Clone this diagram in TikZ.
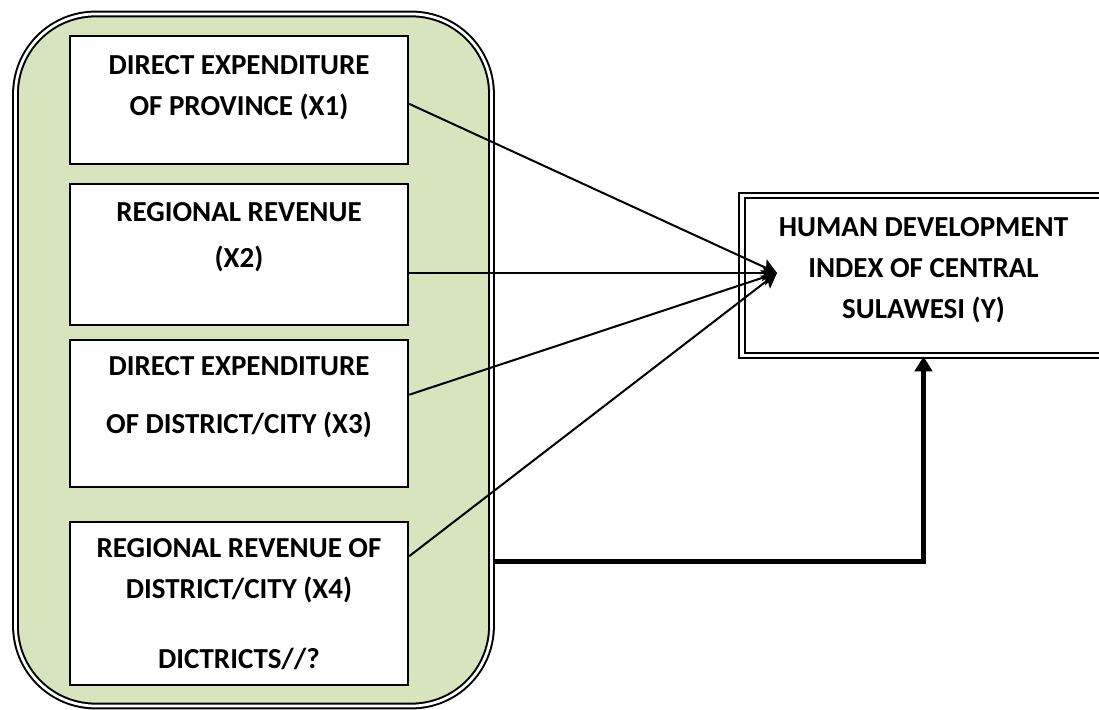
\documentclass[tikz,border=0pt]{standalone}
\usepackage{fontspec}
\setmainfont{Carlito}
\usetikzlibrary{arrows.meta, positioning, calc}
\definecolor{panelgreen}{RGB}{215, 228, 189}

\begin{document}
\begin{tikzpicture}[
  varbox/.style={draw, fill=white, line width=0.04cm, minimum width=6.77cm},
  vartext/.style={font=\bfseries\fontsize{16.5}{23.3}\selectfont, align=center, inner sep=0pt},
  link/.style={-{Stealth[length=0.3cm, width=0.32cm, inset=0.06cm]}, line width=0.04cm},
  feed/.style={-{Triangle[length=0.3cm, width=0.35cm]}, line width=0.1cm}
]
  \useasboundingbox (0,0) rectangle (21.98,14.18);

  % Independent variables
  \node[draw, double, double distance=0.055cm, line width=0.04cm, fill=panelgreen, rounded corners=1.6cm, minimum width=9.52cm, minimum height=13.84cm] (panel) at (5.07,6.98) {};

  \node[varbox, minimum height=2.56cm] (x1) at (4.78,12.18) {};
  \node[vartext, below=0.40cm of x1.north] (x1txt) {DIRECT EXPENDITURE\\OF PROVINCE (X1)};

  \node[varbox, minimum height=2.81cm] (x2) at (4.78,9.09) {};
  \node[vartext, below=0.37cm of x2.north] (x2txt) {REGIONAL REVENUE\\[0.1cm](X2)};

  \node[varbox, minimum height=2.94cm] (x3) at (4.78,5.91) {};
  \node[vartext, below=0.34cm of x3.north] (x3txt) {DIRECT EXPENDITURE\\[0.34cm]OF DISTRICT/CITY (X3)};

  \node[varbox, minimum height=3.27cm] (x4) at (4.78,2.11) {};
  \node[vartext, below=0.35cm of x4.north] (x4txt) {REGIONAL REVENUE OF\\DISTRICT/CITY (X4)\\[0.58cm]DICTRICTS//?};

  % Dependent variable
  \node[draw, double, double distance=0.07cm, line width=0.04cm, minimum width=7.26cm, minimum height=3.2cm, vartext, text depth=0.3cm] (hdi) at (18.47,8.67) {HUMAN DEVELOPMENT\\INDEX OF CENTRAL\\SULAWESI (Y)};

  % Links
  \coordinate (hub) at (15.54,8.72);
  \draw[link] ($(x1.north east)!0.53!(x1.south east)$) -- (hub);
  \draw[link] (x2.east |- hub) -- (hub);
  \draw[link] ($(x3.north east)!0.374!(x3.south east)$) -- (hub);
  \draw[link] ($(x4.north east)!0.214!(x4.south east)$) -- (hub);

  \coordinate (tap) at (0,2.95);
  \draw[feed] (panel.east |- tap) -| (hdi.south);
\end{tikzpicture}
\end{document}
